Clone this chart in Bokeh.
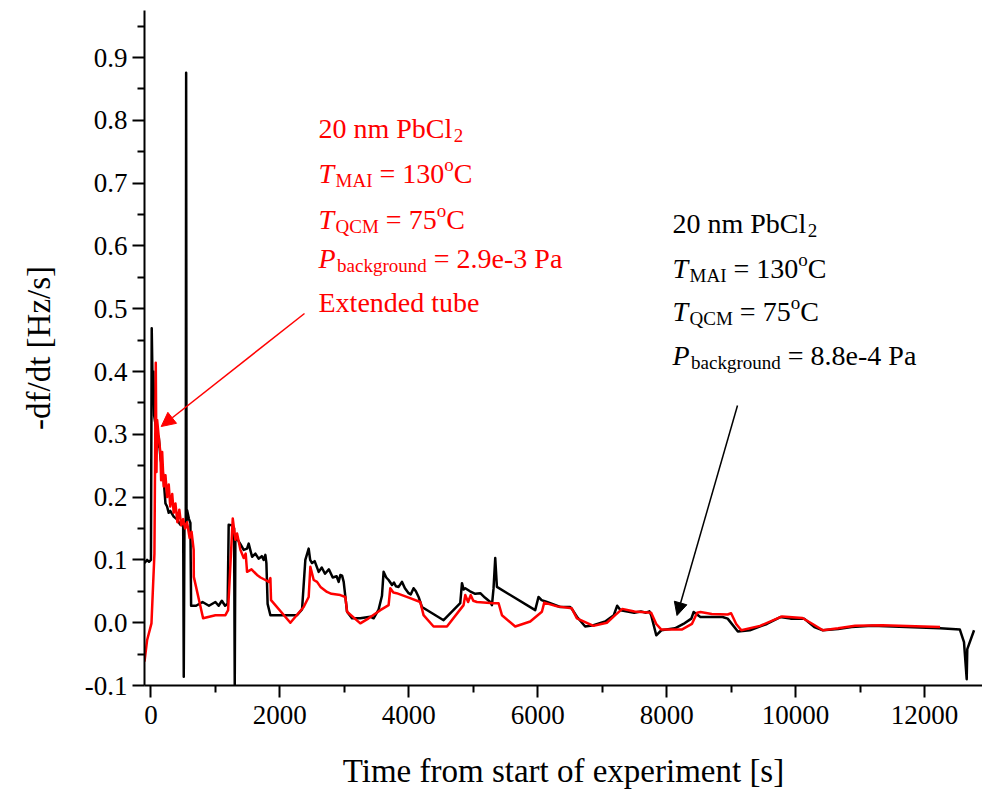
from bokeh.plotting import figure
from bokeh.models import FixedTicker, PrintfTickFormatter, Label, Arrow, NormalHead, Range1d
from bokeh.embed import file_html
from bokeh.resources import INLINE

# ---------------- data ----------------
black_t = [-100, -60, -30, 0, 12, 30, 38, 50, 80, 100, 121, 150, 174, 198, 225, 250, 276, 300,
           353, 400, 457, 500, 509, 520, 540, 546, 552, 561, 590, 612, 623, 700, 800, 900, 1000,
           1050, 1100, 1150, 1190, 1206, 1259, 1290, 1300, 1310, 1336, 1388, 1439, 1491, 1516,
           1569, 1620, 1670, 1720, 1749, 1775, 1791, 1810, 1853, 2000, 2266, 2344, 2395, 2447,
           2470, 2499, 2540, 2602, 2650, 2700, 2760, 2820, 2880, 2912, 2938, 2965, 2990, 3042,
           3119, 3248, 3403, 3454, 3532, 3584, 3609, 3650, 3687, 3740, 3770, 3800, 3842, 3894,
           3940, 3997, 4030, 4074, 4110, 4152, 4204, 4540, 4798, 4825, 4850, 4876, 4950, 5030,
           5109, 5180, 5264, 5290, 5315, 5341, 5367, 5961, 6012, 6060, 6143, 6349, 6504, 6530,
           6608, 6736, 6865, 7047, 7180, 7233, 7285, 7496, 7600, 7680, 7733, 7760, 7839, 7918,
           8129, 8260, 8383, 8419, 8524, 8867, 8947, 9105, 9290, 9554, 9764, 9922, 10133, 10291,
           10423, 10660, 10871, 11188, 11715, 12242, 12549, 12613, 12655, 12664, 12769]
black_v = [0.095, 0.100, 0.097, 0.100, 0.469, 0.350, 0.400, 0.330, 0.310, 0.280, 0.296, 0.260,
           0.248, 0.227, 0.190, 0.185, 0.175, 0.178, 0.169, 0.165, 0.156, 0.155, -0.086, 0.160,
           0.160, 0.876, 0.160, 0.179, 0.165, 0.159, 0.027, 0.027, 0.033, 0.027, 0.033, 0.027,
           0.035, 0.027, 0.030, 0.156, 0.155, 0.150, -0.100, 0.140, 0.134, 0.125, 0.116, 0.118,
           0.126, 0.105, 0.110, 0.102, 0.106, 0.100, 0.108, 0.095, 0.030, 0.012, 0.012, 0.012,
           0.021, 0.100, 0.118, 0.100, 0.095, 0.098, 0.081, 0.088, 0.078, 0.085, 0.072, 0.074,
           0.065, 0.076, 0.075, 0.065, 0.0175, 0.007, 0.007, 0.0095, 0.007, 0.021, 0.043, 0.081,
           0.072, 0.068, 0.060, 0.064, 0.058, 0.057, 0.065, 0.055, 0.047, 0.045, 0.055, 0.050,
           0.041, 0.025, 0.004, 0.031, 0.063, 0.053, 0.055, 0.050, 0.046, 0.047, 0.040, 0.033,
           0.028, 0.055, 0.103, 0.057, 0.020, 0.041, 0.036, 0.033, 0.025, 0.025, 0.022, 0.0095,
           -0.006, -0.004, 0.002, 0.012, 0.027, 0.020, 0.016, 0.018, 0.016, 0.018, 0.012, -0.020,
           -0.012, -0.009, -0.002, 0.0065, 0.017, 0.009, 0.009, 0.0065, -0.014, -0.012, -0.002,
           0.009, 0.0065, 0.0065, -0.007, -0.012, -0.010, -0.007, -0.005, -0.007, -0.009, -0.011,
           -0.031, -0.090, -0.042, -0.012]

red_t = [-100, -60, 8, 54, 75, 86, 96, 121, 147, 158, 174, 198, 225, 251, 276, 300, 330, 353,
         380, 410, 440, 470, 500, 530, 560, 600, 630, 663, 665, 809, 1000, 1155, 1197, 1269, 1310,
         1336, 1388, 1439, 1470, 1491, 1560, 1646, 1700, 1775, 1827, 1853, 1863, 2163, 2369, 2447,
         2473, 2525, 2577, 2630, 2731, 2800, 2938, 3016, 3042, 3248, 3377, 3558, 3687, 3713, 3760,
         3810, 4000, 4178, 4229, 4384, 4592, 4850, 4876, 4920, 4960, 5000, 5057, 5315, 5393, 5445,
         5651, 5884, 6065, 6101, 6300, 6527, 6608, 6865, 7073, 7202, 7312, 7500, 7760, 7839, 7918,
         8234, 8392, 8473, 8524, 8700, 8947, 9000, 9079, 9158, 9448, 9791, 10107, 10265, 10423,
         10660, 10924, 11346, 12242]
red_v = [-0.062, -0.028, -0.001, 0.110, 0.414, 0.240, 0.323, 0.296, 0.270, 0.227, 0.272, 0.217,
         0.235, 0.200, 0.220, 0.185, 0.205, 0.175, 0.190, 0.160, 0.180, 0.155, 0.165, 0.150, 0.160,
         0.135, 0.145, 0.116, 0.073, 0.007, 0.012, 0.012, 0.020, 0.166, 0.132, 0.142, 0.116, 0.103,
         0.110, 0.081, 0.085, 0.076, 0.072, 0.068, 0.065, 0.071, 0.036, 0.000, 0.025, 0.041, 0.089,
         0.068, 0.065, 0.057, 0.049, 0.046, 0.044, 0.041, 0.0175, -0.001, 0.007, 0.020, 0.028,
         0.055, 0.048, 0.047, 0.040, 0.033, 0.012, -0.006, -0.006, 0.028, 0.044, 0.033, 0.044,
         0.035, 0.033, 0.031, 0.031, 0.012, -0.006, 0.002, 0.0175, 0.032, 0.026, 0.023, 0.007,
         -0.005, 0.000, 0.012, 0.022, 0.018, 0.016, -0.002, -0.011, -0.011, -0.002, 0.016, 0.017,
         0.014, 0.013, 0.015, -0.002, -0.012, -0.005, 0.010, 0.0075, -0.002, -0.012, -0.009,
         -0.005, -0.004, -0.007]

x_ticks = [0, 2000, 4000, 6000, 8000, 10000, 12000]
x_minor = [1000, 3000, 5000, 7000, 9000, 11000]
y_ticks = [-0.1, 0.0, 0.1, 0.2, 0.3, 0.4, 0.5, 0.6, 0.7, 0.8, 0.9]
y_minor = [-0.05, 0.05, 0.15, 0.25, 0.35, 0.45, 0.55, 0.65, 0.75, 0.85, 0.95]

x_title = "Time from start of experiment [s]"
y_title = "-df/dt [Hz/s]"

red_note = [
    [("20 nm PbCl", "n"), ("2", "sub")],
    [("T", "i"), ("MAI", "sub"), (" = 130", "n"), ("o", "sup"), ("C", "n")],
    [("T", "i"), ("QCM", "sub"), (" = 75", "n"), ("o", "sup"), ("C", "n")],
    [("P", "i"), ("background", "sub"), (" = 2.9e-3 Pa", "n")],
    [("Extended tube", "n")],
]
black_note = [
    [("20 nm PbCl", "n"), ("2", "sub")],
    [("T", "i"), ("MAI", "sub"), (" = 130", "n"), ("o", "sup"), ("C", "n")],
    [("T", "i"), ("QCM", "sub"), (" = 75", "n"), ("o", "sup"), ("C", "n")],
    [("P", "i"), ("background", "sub"), (" = 8.8e-4 Pa", "n")],
]

# ---------------- figure ----------------
X0, X1 = -100, 12900
Y0, Y1 = -0.1, 0.975
FL, FR, FT, FB = 144, 982, 10, 685
FONT = "Liberation Serif"

p = figure(width=982, height=794, x_range=Range1d(X0, X1), y_range=Range1d(Y0, Y1),
           output_backend="svg", toolbar_location=None,
           min_border_left=FL, min_border_right=982 - FR, min_border_top=FT,
           min_border_bottom=794 - FB)
p.outline_line_color = None
p.xgrid.visible = False
p.ygrid.visible = False
p.background_fill_color = "white"
p.border_fill_color = "white"

p.line(black_t, black_v, line_color="black", line_width=2.5, line_join="round")
p.line(red_t, red_v, line_color="red", line_width=2.5, line_join="round")

for ax in (p.xaxis[0], p.yaxis[0]):
    ax.axis_line_width = 2
    ax.axis_line_color = "black"
    ax.major_tick_line_width = 2
    ax.minor_tick_line_width = 2
    ax.major_tick_in = 0
    ax.major_tick_out = 12
    ax.minor_tick_in = 0
    ax.minor_tick_out = 7
    ax.major_label_text_font = FONT
    ax.major_label_text_font_size = "27px"
    ax.major_label_text_color = "black"
    ax.axis_label_text_font = FONT
    ax.axis_label_text_font_size = "33px"
    ax.axis_label_text_font_style = "normal"
    ax.axis_label_text_color = "black"

xa = p.xaxis[0]
xa.ticker = FixedTicker(ticks=x_ticks, minor_ticks=x_minor)
xa.formatter = PrintfTickFormatter(format="%d")
xa.axis_label = x_title
xa.major_label_standoff = 8
xa.axis_label_standoff = 26

ya = p.yaxis[0]
ya.ticker = FixedTicker(ticks=y_ticks, minor_ticks=y_minor)
ya.formatter = PrintfTickFormatter(format="%.1f")
ya.axis_label = y_title
ya.major_label_standoff = 5
ya.axis_label_standoff = 25


def dx(px):
    return X0 + (px - FL) / (FR - FL) * (X1 - X0)


def dy(py):
    return Y0 + (FB - py) / (FB - FT) * (Y1 - Y0)


W_REG = {' ': 250, '.': 250, '-': 333, '=': 564, 'C': 667, 'P': 556, 'b': 500, 'l': 278,
         'n': 500, 'm': 778, 'a': 444, 'c': 444, 'k': 500, 'g': 500, 'r': 333, 'o': 500,
         'u': 500, 'd': 500, 'e': 444, 'M': 889, 'A': 722, 'I': 333, 'Q': 722, 'E': 611,
         'x': 500, 't': 278, 'i': 278, 'T': 611}
W_ITAL = {'T': 556, 'P': 611}


def tw(s, size, italic=False):
    tot = 0
    for c in s:
        if italic and c in W_ITAL:
            tot += W_ITAL[c]
        else:
            tot += W_REG.get(c, 500)
    return tot * size / 1000.0


def add_block(lines, left_px, baselines, color):
    for pieces, base in zip(lines, baselines):
        off = 0.0
        for txt, kind in pieces:
            if kind == "sub":
                size, shift, style = 19, 7, "normal"
                off += 1.5
            elif kind == "sup":
                size, shift, style = 19, -9, "normal"
            elif kind == "i":
                size, shift, style = 28, 0, "italic"
            else:
                size, shift, style = 28, 0, "normal"
            if txt.startswith(" "):
                off += tw(" ", size)
                txt = txt[1:]
            p.add_layout(Label(x=dx(left_px), y=dy(base + shift), x_offset=off, text=txt,
                               text_font=FONT, text_font_size=f"{size}px",
                               text_font_style=style, text_color=color,
                               text_baseline="alphabetic", text_align="left"))
            off += tw(txt, size, kind == "i")


add_block(red_note, 318, [128, 173, 219, 258, 302], "red")
add_block(black_note, 672, [223, 268, 311, 355], "black")

p.add_layout(Arrow(end=NormalHead(size=14, fill_color="red", line_color="red", line_width=1),
                   x_start=dx(304), y_start=dy(313), x_end=dx(160.7), y_end=dy(426),
                   line_color="red", line_width=1.5))
p.add_layout(Arrow(end=NormalHead(size=13, fill_color="black", line_color="black", line_width=1),
                   x_start=dx(737), y_start=dy(405), x_end=dx(676.5), y_end=dy(615),
                   line_color="black", line_width=1.5))

open("out.html", "w").write(file_html(p, INLINE))
